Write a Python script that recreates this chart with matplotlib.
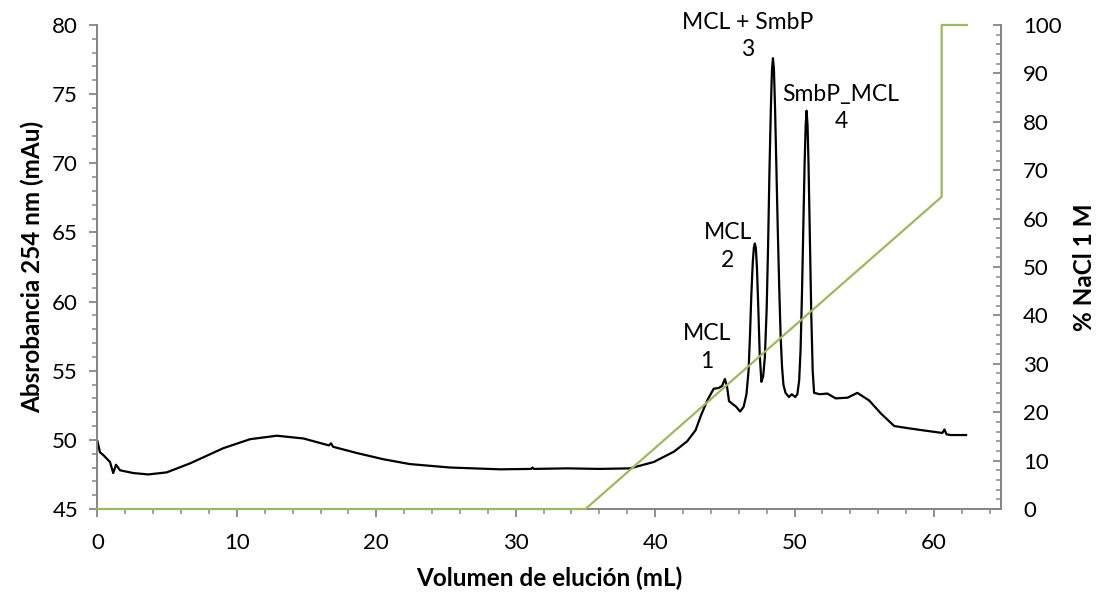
import matplotlib
matplotlib.use('Agg')
import matplotlib.pyplot as plt
from matplotlib.ticker import MultipleLocator

plt.rcParams['font.family'] = ['Lato', 'DejaVu Sans']

# absorbance trace (mL, mAu)
vol = [0.0, 0.18, 0.42, 0.9, 1.13, 1.33, 1.62, 2.57, 3.65, 4.97, 6.64, 9.03, 10.95,
       12.87, 14.78, 16.6, 16.75, 16.9, 18.6, 20.5, 22.4, 25.3, 28.9, 31.1, 31.2, 31.3,
       33.7, 36.0, 38.2, 39.9, 41.35, 42.3, 42.9, 43.3, 43.76, 44.2, 44.55, 44.8, 45.0,
       45.15, 45.3, 45.55, 45.8, 46.1, 46.35, 46.55, 46.7, 46.8, 46.9, 47.0, 47.08,
       47.15, 47.22, 47.3, 47.4, 47.5, 47.62, 47.75, 47.87, 48.0, 48.1, 48.2, 48.3,
       48.38, 48.45, 48.52, 48.6, 48.7, 48.8, 48.9, 49.0, 49.1, 49.2, 49.35, 49.6,
       49.8, 50.05, 50.2, 50.33, 50.43, 50.53, 50.63, 50.72, 50.8, 50.86, 50.93, 51.0,
       51.1, 51.2, 51.3, 51.4, 51.8, 52.35, 52.95, 53.8, 54.5, 55.35, 56.2, 57.15, 58.1,
       59.5, 60.6, 60.75, 60.9, 61.2, 62.3]
absorb = [49.9, 49.1, 48.9, 48.4, 47.6, 48.2, 47.8, 47.6, 47.5, 47.65, 48.3, 49.4, 50.05,
          50.3, 50.1, 49.6, 49.75, 49.5, 49.05, 48.6, 48.25, 48.0, 47.87, 47.9, 48.0, 47.9,
          47.94, 47.9, 47.94, 48.4, 49.15, 49.9, 50.7, 51.8, 52.9, 53.7, 53.75, 53.9, 54.4,
          53.9, 52.8, 52.6, 52.4, 52.05, 52.4, 53.3, 55.0, 57.5, 60.5, 62.8, 63.9,
          64.2, 63.9, 62.5, 59.5, 56.2, 54.2, 54.6, 56.0, 59.5, 64.0, 69.5, 74.0,
          76.8, 77.6, 76.8, 74.0, 69.5, 65.0, 61.0, 57.5, 55.3, 54.0, 53.4, 53.1,
          53.3, 53.1, 53.3, 54.3, 56.5, 60.5, 65.5, 70.0, 72.8, 73.8, 72.8, 70.0,
          64.5, 59.0, 55.0, 53.4, 53.3, 53.35, 53.0, 53.05, 53.4, 52.85, 51.9, 51.0, 50.85,
          50.65, 50.5, 50.75, 50.4, 50.35, 50.35]

# NaCl gradient (mL, %)
grad_vol = [0.0, 35.0, 60.55, 60.55, 62.35]
grad_nacl = [0.0, 0.0, 64.5, 100.0, 100.0]

# peak labels
peak_text = ['MCL\n1', 'MCL\n2', 'MCL + SmbP\n3', 'SmbP_MCL\n4']
peak_x = [43.7, 45.2, 46.66, 53.34]
peak_y = [56.7, 64.0, 79.2, 74.0]

spine_col = '#868686'
green = '#9BBB59'

fig = plt.figure(figsize=(11.05, 5.98), dpi=100)
ax = fig.add_axes([0.0882, 0.1488, 0.8176, 0.8094])
ax2 = ax.twinx()

ax.plot(vol, absorb, color='black', lw=1.6, zorder=3)
ax2.plot(grad_vol, grad_nacl, color=green, lw=1.6, zorder=3, clip_on=False)

ax.set_xlim(0, 64.8)
ax.set_ylim(45, 80)
ax2.set_ylim(0, 100)

ax.xaxis.set_major_locator(MultipleLocator(10))
ax.xaxis.set_minor_locator(MultipleLocator(2))
ax.yaxis.set_major_locator(MultipleLocator(5))
ax.yaxis.set_minor_locator(MultipleLocator(1))
ax2.yaxis.set_major_locator(MultipleLocator(10))
ax2.yaxis.set_minor_locator(MultipleLocator(2))

for a in (ax, ax2):
	for s in a.spines.values():
		s.set_color(spine_col)
		s.set_linewidth(1.3)
	a.spines['top'].set_visible(False)

ax.tick_params(axis='both', which='major', length=6, width=1.3, color=spine_col,
               labelsize=16, labelcolor='black', pad=8)
ax.tick_params(axis='both', which='minor', length=3.5, width=1.1, color=spine_col)
ax.tick_params(axis='x', which='major', pad=11)
ax2.tick_params(axis='y', which='major', direction='in', length=6, width=1.3,
                color=spine_col, labelsize=16, labelcolor='black', pad=16)
ax2.tick_params(axis='y', which='minor', direction='in', length=3.5, width=1.1,
                color=spine_col)

ax.set_xlabel('Volumen de elución (mL)', fontsize=17.5, fontweight='bold', labelpad=10)
ax.set_ylabel('Absrobancia 254 nm (mAu)', fontsize=17.5, fontweight='bold', labelpad=6)
ax2.set_ylabel('% NaCl 1 M', fontsize=17.5, fontweight='bold', labelpad=8)

for txt, px, py in zip(peak_text, peak_x, peak_y):
	ax.text(px, py, txt, ha='center', va='center', multialignment='center',
	        fontsize=16.5, linespacing=1.4, clip_on=False)

fig.savefig('out.png', dpi=100)
